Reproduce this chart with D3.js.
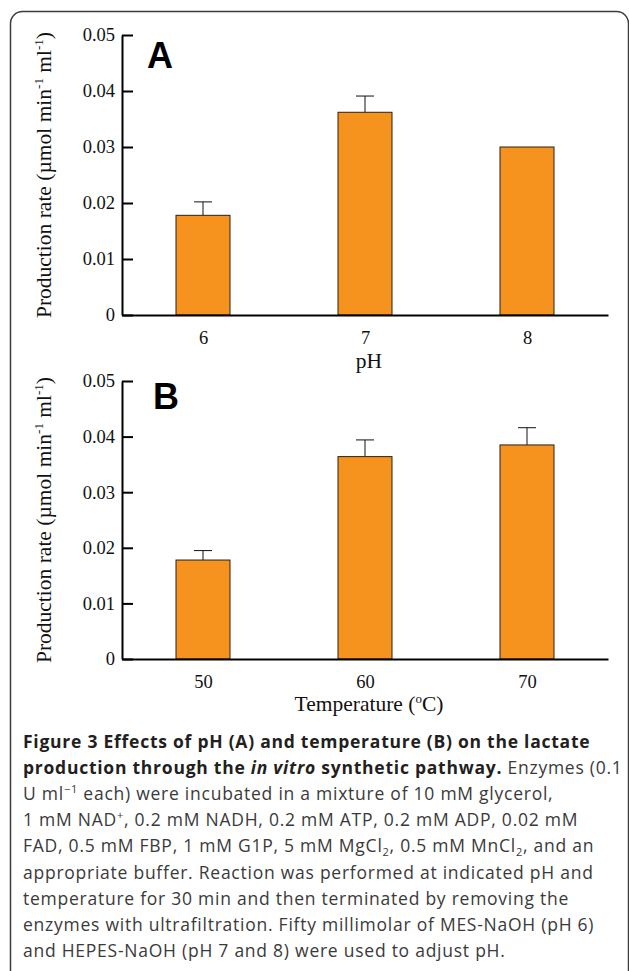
<!DOCTYPE html>
<html>
<head>
<meta charset="utf-8">
<script src="https://cdn.jsdelivr.net/npm/d3@7"></script>
<style>
  body { margin: 0; background: #fff; }
  svg { display: block; }
</style>
</head>
<body>
<script>
// panel A: pH
const phLabels = ['6', '7', '8'];
const phRate = [0.0178, 0.0362, 0.0300];
const phErr = [0.0024, 0.0029, 0];

// panel B: temperature
const tempLabels = ['50', '60', '70'];
const tempRate = [0.0178, 0.0364, 0.0385];
const tempErr = [0.0017, 0.0030, 0.0031];

const yTicks = [0, 0.01, 0.02, 0.03, 0.04, 0.05];

const captionLines = [
  [{ t: 'Figure 3 Effects of pH (A) and temperature (B) on the lactate', b: true }],
  [{ t: 'production through the ', b: true }, { t: 'in vitro', b: true, i: true },
   { t: ' synthetic pathway.', b: true }, { t: ' Enzymes (0.1' }],
  [{ t: 'U ml' }, { t: '\u22121', sup: true }, { t: ' each) were incubated in a mixture of 10 mM glycerol,' }],
  [{ t: '1 mM NAD' }, { t: '+', sup: true }, { t: ', 0.2 mM NADH, 0.2 mM ATP, 0.2 mM ADP, 0.02 mM' }],
  [{ t: 'FAD, 0.5 mM FBP, 1 mM G1P, 5 mM MgCl' }, { t: '2', sub: true },
   { t: ', 0.5 mM MnCl' }, { t: '2', sub: true }, { t: ', and an' }],
  [{ t: 'appropriate buffer. Reaction was performed at indicated pH and' }],
  [{ t: 'temperature for 30 min and then terminated by removing the' }],
  [{ t: 'enzymes with ultrafiltration. Fifty millimolar of MES-NaOH (pH 6)' }],
  [{ t: 'and HEPES-NaOH (pH 7 and 8) were used to adjust pH.' }],
];

const width = 629, height = 971;
const serif = "'Liberation Serif', 'Times New Roman', serif";

const svg = d3.select('body')
  .append('svg')
  .attr('width', width)
  .attr('height', height);

svg.append('rect')
  .attr('x', 10.5)
  .attr('y', 11.5)
  .attr('width', 618)
  .attr('height', 1000)
  .attr('rx', 12)
  .attr('fill', 'none')
  .attr('stroke', '#3c3c3c')
  .attr('stroke-width', 1.5);

function panel(opts) {
  const { labels, rate, err, top, bottom, letter, letterX, xTitle } = opts;

  const x = d3.scalePoint()
    .domain(labels)
    .range([122, 608])
    .padding(0.5);

  const y = d3.scaleLinear()
    .domain([0, 0.05])
    .range([bottom, top]);

  const barW = 54, capW = 18;

  const data = labels.map((l, i) => ({ label: l, value: rate[i], err: err[i] }));

  // error bars behind the bars
  const eb = svg.append('g')
    .attr('stroke', '#111')
    .attr('stroke-width', 1);
  data.filter(d => d.err > 0).forEach(d => {
    eb.append('line')
      .attr('x1', x(d.label)).attr('x2', x(d.label))
      .attr('y1', y(d.value)).attr('y2', y(d.value + d.err));
    eb.append('line')
      .attr('x1', x(d.label) - capW / 2).attr('x2', x(d.label) + capW / 2)
      .attr('y1', y(d.value + d.err)).attr('y2', y(d.value + d.err));
  });

  svg.append('g')
    .selectAll('rect')
    .data(data)
    .enter()
    .append('rect')
    .attr('x', d => x(d.label) - barW / 2)
    .attr('y', d => y(d.value))
    .attr('width', barW)
    .attr('height', d => y(0) - y(d.value))
    .attr('fill', '#f6921e')
    .attr('stroke', '#2a2016')
    .attr('stroke-width', 1);

  const yAxis = svg.append('g')
    .attr('transform', 'translate(122, 0)')
    .call(d3.axisLeft(y)
      .tickValues(yTicks)
      .tickSizeInner(-11)
      .tickSizeOuter(0)
      .tickPadding(7)
      .tickFormat(d => d === 0 ? '0' : d3.format('.2f')(d)));
  yAxis.selectAll('line').attr('stroke', '#000').attr('stroke-width', 2);
  yAxis.select('.domain').attr('stroke', '#000').attr('stroke-width', 2);
  yAxis.selectAll('text')
    .attr('font-family', serif)
    .attr('font-size', 18.5)
    .attr('fill', '#111');

  const xAxis = svg.append('g')
    .attr('transform', `translate(0, ${bottom})`)
    .call(d3.axisBottom(x).tickSize(0).tickPadding(16));
  xAxis.select('.domain').attr('stroke', '#000').attr('stroke-width', 2);
  xAxis.selectAll('text')
    .attr('font-family', serif)
    .attr('font-size', 18.5)
    .attr('fill', '#111');

  // y title
  const yt = svg.append('text')
    .attr('transform', `translate(51, ${(top + bottom) / 2}) rotate(-90)`)
    .attr('text-anchor', 'middle')
    .attr('font-family', serif)
    .attr('font-size', 21.5)
    .attr('fill', '#111');
  yt.append('tspan').text('Production rate (\u00b5mol min');
  yt.append('tspan').attr('font-size', 13).attr('dy', -8).text('-1');
  yt.append('tspan').attr('dy', 8).text(' ml');
  yt.append('tspan').attr('font-size', 13).attr('dy', -8).text('-1');
  yt.append('tspan').attr('dy', 8).text(')');

  // x title
  const xt = svg.append('text')
    .attr('x', x(labels[1]) + 4)
    .attr('y', opts.xTitleY)
    .attr('text-anchor', 'middle')
    .attr('font-family', serif)
    .attr('font-size', 21.5)
    .attr('fill', '#111');
  xTitle.forEach(p => {
    const s = xt.append('tspan').text(p.t);
    if (p.sup) s.attr('font-size', 13).attr('dy', -8);
    if (p.back) s.attr('dy', 8);
  });

  svg.append('text')
    .attr('x', letterX)
    .attr('y', opts.letterY)
    .attr('font-family', "'Liberation Sans', Arial, sans-serif")
    .attr('font-weight', 'bold')
    .attr('font-size', 36)
    .attr('fill', '#000')
    .text(letter);
}

panel({
  labels: phLabels, rate: phRate, err: phErr,
  top: 35, bottom: 315,
  letter: 'A', letterX: 147, letterY: 68,
  xTitle: [{ t: 'pH' }], xTitleY: 368
});

panel({
  labels: tempLabels, rate: tempRate, err: tempErr,
  top: 381, bottom: 659,
  letter: 'B', letterX: 153, letterY: 409,
  xTitle: [{ t: 'Temperature (' }, { t: 'o', sup: true }, { t: 'C)', back: true }], xTitleY: 711
});

// caption
const cap = svg.append('g')
  .attr('font-family', "'Open Sans', 'Noto Sans', sans-serif")
  .attr('font-size', 17.5)
  .attr('letter-spacing', 0.75);

captionLines.forEach((line, li) => {
  const txt = cap.append('text')
    .attr('x', 23)
    .attr('y', 748 + li * 26.1)
    .attr('fill', '#3a3a3a');
  line.forEach(p => {
    const s = txt.append('tspan').text(p.t);
    if (p.b) s.attr('font-weight', 'bold').attr('fill', '#231f20');
    if (p.i) s.attr('font-style', 'italic');
    if (p.sup) s.attr('font-size', 11).attr('baseline-shift', '7');
    if (p.sub) s.attr('font-size', 11).attr('baseline-shift', '-4');
  });
});
</script>
</body>
</html>
